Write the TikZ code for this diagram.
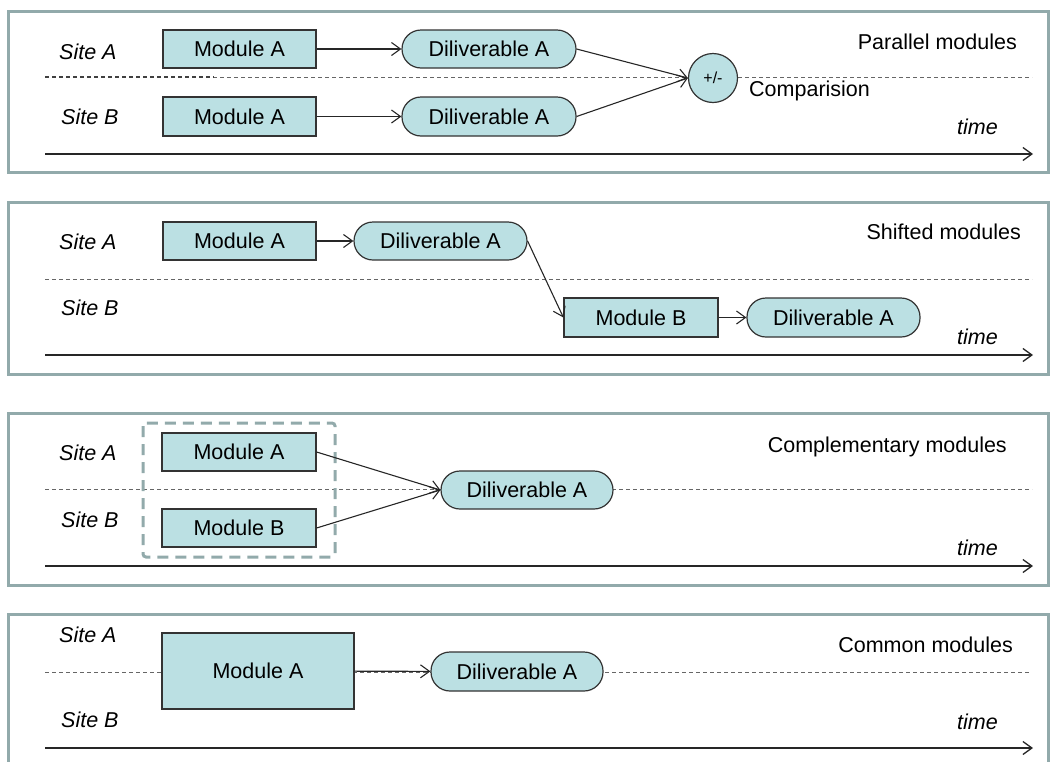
\documentclass[tikz,border=0pt]{standalone}
\usepackage{fontspec}
\setmainfont{Liberation Sans}
\usetikzlibrary{arrows.meta}
\definecolor{panelc}{HTML}{92AAAB}
\definecolor{boxfill}{HTML}{BBE0E3}
\definecolor{edgec}{HTML}{333333}
\newcommand{\bigf}{\fontsize{21.5}{24}\selectfont}
\tikzset{
  panel/.style={draw=panelc, line width=3pt},
  modbox/.style={draw=edgec, fill=boxfill, line width=1.2pt, inner sep=0pt, font=\bigf},
  delbox/.style={modbox, rounded corners=19pt},
  lab/.style={inner sep=0pt, font=\bigf, text height=15.4pt, text depth=0pt},
  site/.style={lab, font=\bigf\itshape, anchor=west},
  title/.style={lab, anchor=east},
  timelab/.style={lab, font=\bigf\itshape, anchor=east},
  divider/.style={draw=black!60, dash pattern=on 4pt off 3pt, line width=1pt},
  conn/.style={draw=black!85, line width=1.1pt, -{Straight Barb[length=9pt,width=13pt]}},
  axis/.style={draw=black!85, line width=1.3pt, -{Straight Barb[length=9pt,width=13pt]}},
  group/.style={draw=panelc, line width=3pt, dash pattern=on 11pt off 7pt, rounded corners=3pt}
}
\begin{document}
\begin{tikzpicture}[x=1pt,y=-1pt]
\path[use as bounding box] (0,0) rectangle (1050,761);

% ---------------- Panel 1: Parallel modules
\draw[panel] (8,11) rectangle (1048,172);
\coordinate (p1l) at (45,77);
\coordinate (p1m) at (214,77);
\coordinate (p1r) at (1032,77);
\draw[divider] (p1l) -- (p1r);
\draw[divider, draw=black!75, line width=1.6pt] (p1l) -- (p1m);
\node[site] (p1sa) at (59,52) {Site A};
\node[site] (p1sb) at (61,117) {Site B};
\node[modbox, minimum width=153pt, minimum height=38pt] (p1ma) at (239.5,49) {Module A};
\node[modbox, minimum width=153pt, minimum height=39pt] (p1mb) at (239.5,116.5) {Module A};
\node[delbox, minimum width=174pt, minimum height=38pt] (p1da) at (489,49) {Diliverable A};
\node[delbox, minimum width=174pt, minimum height=39pt] (p1db) at (489,116.5) {Diliverable A};
\node[circle, draw=edgec, fill=boxfill, line width=1.2pt, minimum size=49pt, inner sep=0pt, font=\fontsize{16}{18}\selectfont] (p1c) at (713,78) {+/-};
\node[lab, anchor=west] (p1cmp) at (749,89) {Comparision};
\node[title] (p1t) at (1017,42) {Parallel modules};
\node[timelab] (p1time) at (998,127) {time};
\coordinate (p1al) at (45,154);
\coordinate (p1ar) at (1033,154);
\draw[axis] (p1al) -- (p1ar);
\draw[conn] (p1ma) -- (p1da);
\draw[conn] (p1mb) -- (p1db);
\draw[conn] (p1da.east) -- (p1c.west);
\draw[conn] (p1db.east) -- (p1c.west);

% ---------------- Panel 2: Shifted modules
\draw[panel] (8,202) rectangle (1048,374);
\coordinate (p2l) at (45,279);
\coordinate (p2r) at (1032,279);
\draw[divider] (p2l) -- (p2r);
\node[site] (p2sa) at (59,242) {Site A};
\node[site] (p2sb) at (61,308) {Site B};
\node[modbox, minimum width=153pt, minimum height=38pt] (p2ma) at (239.5,241) {Module A};
\node[delbox, minimum width=173pt, minimum height=38pt] (p2da) at (440.5,241) {Diliverable A};
\node[modbox, minimum width=154pt, minimum height=39pt] (p2mb) at (641,317.5) {Module B};
\node[delbox, minimum width=173pt, minimum height=39pt] (p2db) at (833.5,317.5) {Diliverable A};
\node[title] (p2t) at (1021,232) {Shifted modules};
\node[timelab] (p2time) at (998,337) {time};
\coordinate (p2al) at (45,355);
\coordinate (p2ar) at (1033,355);
\draw[axis] (p2al) -- (p2ar);
\draw[conn] (p2ma) -- (p2da);
\draw[conn] (p2da.east) -- (p2mb.west);
\draw[conn] (p2mb) -- (p2db);

% ---------------- Panel 3: Complementary modules
\draw[panel] (8,413) rectangle (1048,585);
\coordinate (p3l) at (45,489);
\coordinate (p3r) at (1032,489);
\draw[divider] (p3l) -- (p3r);
\node[site] (p3sa) at (59,453) {Site A};
\node[site] (p3sb) at (61,520) {Site B};
\node[modbox, minimum width=154pt, minimum height=38pt] (p3ma) at (239,452) {Module A};
\node[modbox, minimum width=154pt, minimum height=38pt] (p3mb) at (239,528) {Module B};
\draw[group] (143,423) rectangle (335,557);
\node[delbox, minimum width=172pt, minimum height=38pt] (p3da) at (527,490) {Diliverable A};
\node[title] (p3t) at (1007,445) {Complementary modules};
\node[timelab] (p3time) at (998,548) {time};
\coordinate (p3al) at (45,566);
\coordinate (p3ar) at (1033,566);
\draw[axis] (p3al) -- (p3ar);
\draw[conn] (p3ma.east) -- (p3da.west);
\draw[conn] (p3mb.east) -- (p3da.west);

% ---------------- Panel 4: Common modules
\begin{scope}
\clip (0,0) rectangle (1050,761);
\draw[panel] (8,780) -- (8,614) -- (1048,614) -- (1048,780);
\end{scope}
\coordinate (p4l) at (45,672);
\coordinate (p4r) at (1031,672);
\draw[divider] (p4l) -- (p4r);
\node[site] (p4sa) at (59,635) {Site A};
\node[site] (p4sb) at (61,720) {Site B};
\node[modbox, minimum width=192pt, minimum height=76pt] (p4ma) at (258,671) {Module A};
\node[delbox, minimum width=172pt, minimum height=39pt] (p4da) at (517,671.5) {Diliverable A};
\node[title] (p4t) at (1013,645) {Common modules};
\node[timelab] (p4time) at (998,722) {time};
\coordinate (p4al) at (45,748);
\coordinate (p4ar) at (1033,748);
\draw[axis] (p4al) -- (p4ar);
\draw[conn] (p4ma) -- (p4da);
\end{tikzpicture}
\end{document}
